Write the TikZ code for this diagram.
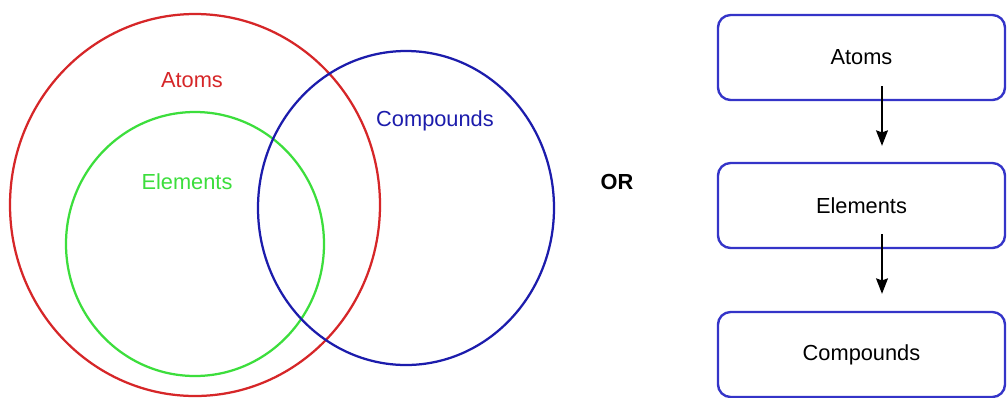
\documentclass[tikz,border=0pt]{standalone}
\usepackage{fontspec}
\setmainfont{Liberation Sans}
\usetikzlibrary{arrows.meta}
\definecolor{atomred}{RGB}{214,38,40}
\definecolor{elemgreen}{RGB}{60,222,60}
\definecolor{compblue}{RGB}{28,28,172}
\definecolor{boxblue}{RGB}{52,52,200}
\tikzset{
    setbox/.style={draw=boxblue, line width=1.7pt, rounded corners=9pt,
        minimum width=7.175cm, minimum height=2.125cm, font=\fontsize{15.5}{18}\selectfont},
    setlabel/.style={font=\fontsize{15.5}{18}\selectfont}
}
\begin{document}
\begin{tikzpicture}[x=0.025cm, y=-0.025cm, >={Stealth[length=11pt, width=8.5pt, inset=1.5pt]}]
            \path[use as bounding box, clip] (0, 0) rectangle (1007, 397);
            \fill[white] (0, 0) rectangle (1007, 397);
            \draw[atomred, line width=1.6pt] (195, 205) ellipse (185 and 191);
            \draw[elemgreen, line width=1.6pt] (195, 244) ellipse (129 and 132);
            \draw[compblue, line width=1.6pt] (406, 208) ellipse (148 and 157);
            \node[setlabel, text=atomred] (vatoms) at (192, 80) {Atoms};
            \node[setlabel, text=elemgreen] (velements) at (187, 182) {Elements};
            \node[setlabel, text=compblue] (vcompounds) at (435, 121) {Compounds};
            \node[setlabel, font=\fontsize{15.5}{18}\selectfont\bfseries] (or) at (617, 182) {OR};
            \node[setbox] (atoms) at (861.5, 57.5) {Atoms};
            \node[setbox] (elements) at (861.5, 205.5) {Elements};
            \node[setbox] (compounds) at (861.5, 354.5) {Compounds};
            \draw[->, line width=1pt] ([shift={(20.5, -15)}]atoms.south) -- ([shift={(20.5, -16)}]elements.north);
            \draw[->, line width=1pt] ([shift={(20.5, -15)}]elements.south) -- ([shift={(20.5, -17)}]compounds.north);
        \end{tikzpicture}
\end{document}
